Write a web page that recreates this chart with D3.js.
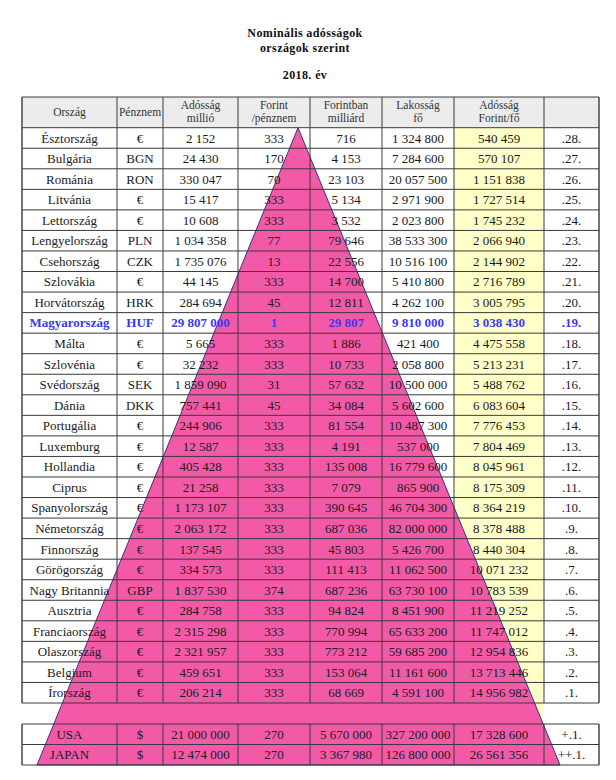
<!DOCTYPE html>
<html><head><meta charset="utf-8">
<script src="https://cdn.jsdelivr.net/npm/d3@7"></script>
<style>
html,body{margin:0;padding:0;background:#fff;}
svg{display:block;}
text{font-family:"Liberation Serif","Times New Roman",serif;}
</style></head>
<body>
<script>
// ---------- DATA ----------
const titleLines = ["Nominális adósságok", "országok szerint"];
const yearLabel = "2018. év";
const headers = [["Ország"], ["Pénznem"], ["Adósság", "millió"], ["Forint", "/pénznem"], ["Forintban", "milliárd"], ["Lakosság", "fő"], ["Adósság", "Forint/fő"], [""]];

const countries = ["Észtország","Bulgária","Románia","Litvánia","Lettország","Lengyelország","Csehország","Szlovákia","Horvátország","Magyarország","Málta","Szlovénia","Svédország","Dánia","Portugália","Luxemburg","Hollandia","Ciprus","Spanyolország","Németország","Finnország","Görögország","Nagy Britannia","Ausztria","Franciaország","Olaszország","Belgium","Írország"];
const currencies = ["€","BGN","RON","€","€","PLN","CZK","€","HRK","HUF","€","€","SEK","DKK","€","€","€","€","€","€","€","€","GBP","€","€","€","€","€"];
const debtMillion = [2152,24430,330047,15417,10608,1034358,1735076,44145,284694,29807000,5665,32232,1859090,757441,244906,12587,405428,21258,1173107,2063172,137545,334573,1837530,284758,2315298,2321957,459651,206214];
const forintPerUnit = [333,170,70,333,333,77,13,333,45,1,333,333,31,45,333,333,333,333,333,333,333,333,374,333,333,333,333,333];
const forintBillion = [716,4153,23103,5134,3532,79646,22556,14700,12811,29807,1886,10733,57632,34084,81554,4191,135008,7079,390645,687036,45803,111413,687236,94824,770994,773212,153064,68669];
const population = [1324800,7284600,20057500,2971900,2023800,38533300,10516100,5410800,4262100,9810000,421400,2058800,10500000,5602600,10487300,537000,16779600,865900,46704300,82000000,5426700,11062500,63730100,8451900,65633200,59685200,11161600,4591100];
const debtPerCapita = [540459,570107,1151838,1727514,1745232,2066940,2144902,2716789,3005795,3038430,4475558,5213231,5488762,6083604,7776453,7804469,8045961,8175309,8364219,8378488,8440304,10071232,10783539,11219252,11747012,12954836,13713446,14956982];
const ranks = [".28.",".27.",".26.",".25.",".24.",".23.",".22.",".21.",".20.",".19.",".18.",".17.",".16.",".15.",".14.",".13.",".12.",".11.",".10.",".9.",".8.",".7.",".6.",".5.",".4.",".3.",".2.",".1."];
const highlightCountry = "Magyarország";

const extraCountries = ["USA","JAPAN"];
const extraCurrencies = ["$","$"];
const extraDebtMillion = [21000000,12474000];
const extraForintPerUnit = [270,270];
const extraForintBillion = [5670000,3367980];
const extraPopulation = [327200000,126800000];
const extraDebtPerCapita = [17328600,26561356];
const extraRanks = ["+.1.","++.1."];

// ---------- LAYOUT ----------
const W = 616, H = 780;
const colEdges = [22,117,163,238,310,382,454,544,599];
const headTop = 97, headBottom = 127.7, bodyBottom = 703, extraTop = 724, extraBottom = 765;
const pink = "#f25aa7", yellow = "#ffffc8", headBg = "#ececec", gridCol = "#3a3a3a";
const fmt = d3.formatLocale({decimal: ",", thousands: "\u2009", grouping: [3], currency: ["", ""]}).format(",d");
const fmtN = v => fmt(v).replace(/\u2009/g, " ");

const svg = d3.select("body").append("svg").attr("width", W).attr("height", H);

// column scale (band by index, explicit edges)
const colIdx = d3.range(8);
const xLeft = d3.scaleOrdinal().domain(colIdx).range(colEdges.slice(0, 8));
const xRight = d3.scaleOrdinal().domain(colIdx).range(colEdges.slice(1));
const xMid = i => (xLeft(i) + xRight(i)) / 2;

const yMain = d3.scaleBand().domain(countries).range([headBottom, bodyBottom]).padding(0);
const yExtra = d3.scaleBand().domain(extraCountries).range([extraTop, extraBottom]).padding(0);

// title
const titleX = 305;
svg.selectAll("text.title").data(titleLines).join("text").attr("class", "title")
  .attr("x", titleX).attr("y", (d, i) => 37 + i * 15).attr("text-anchor", "middle")
  .attr("font-size", 12).attr("font-weight", "bold").attr("letter-spacing", 0.4).attr("fill", "#111").text(d => d);
svg.append("text").attr("x", titleX).attr("y", 79).attr("text-anchor", "middle")
  .attr("font-size", 12).attr("font-weight", "bold").attr("letter-spacing", 0.4).attr("fill", "#111").text(yearLabel);

// backgrounds
const bg = svg.append("g");
bg.selectAll("rect.h").data(colIdx).join("rect").attr("x", i => xLeft(i)).attr("y", headTop)
  .attr("width", i => xRight(i) - xLeft(i)).attr("height", headBottom - headTop).attr("fill", headBg);
bg.append("rect").attr("x", xLeft(6)).attr("y", headBottom).attr("width", xRight(6) - xLeft(6))
  .attr("height", extraBottom - headBottom).attr("fill", yellow);

// triangle
const apexX = 298, baseL = 37, baseR = 560;
svg.append("path")
  .attr("d", d3.line()([[apexX, headBottom], [baseL, extraBottom], [baseR, extraBottom]]) + "Z")
  .attr("fill", pink).attr("stroke", "#3b2f7a").attr("stroke-width", 1);

// grid
const grid = svg.append("g").attr("stroke", gridCol).attr("stroke-width", 1).attr("fill", "none");
function drawBlock(top, bottom, yScale, keys) {
  const hLines = [top].concat(keys.map(k => yScale(k) + yScale.bandwidth()));
  grid.selectAll(null).data(hLines).join("line")
    .attr("x1", colEdges[0]).attr("x2", colEdges[8]).attr("y1", d => d).attr("y2", d => d);
  grid.selectAll(null).data(colEdges).join("line")
    .attr("x1", d => d).attr("x2", d => d).attr("y1", top).attr("y2", bottom)
    .attr("stroke-width", (d, i) => (i === 0 || i === 8) ? 1.4 : 1);
}
drawBlock(headTop, bodyBottom, yMain, countries);
grid.append("line").attr("x1", colEdges[0]).attr("x2", colEdges[8]).attr("y1", headBottom).attr("y2", headBottom);
drawBlock(extraTop, extraBottom, yExtra, extraCountries);

// header text
const hg = svg.append("g");
headers.forEach((lines, i) => {
  lines.forEach((t, j) => {
    const y = lines.length === 1 ? 116 : 109 + j * 13;
    hg.append("text").attr("x", xMid(i)).attr("y", y).attr("text-anchor", "middle")
      .attr("font-size", 11.5).attr("fill", "#333").text(t);
  });
});

// body text
function rowsText(yScale, keys, cols, hl) {
  const g = svg.append("g");
  keys.forEach((k, r) => {
    const isHl = k === hl;
    cols.forEach((vals, c) => {
      g.append("text").attr("x", xMid(c)).attr("y", yScale(k) + yScale.bandwidth() / 2 + 4.6)
        .attr("text-anchor", "middle").attr("font-size", 13)
        .attr("font-weight", isHl ? "bold" : "normal")
        .attr("fill", isHl ? "#3a3af0" : "#1a1a1a")
        .text(vals[r]);
    });
  });
}
rowsText(yMain, countries, [countries, currencies, debtMillion.map(fmtN), forintPerUnit.map(fmtN), forintBillion.map(fmtN), population.map(fmtN), debtPerCapita.map(fmtN), ranks], highlightCountry);
rowsText(yExtra, extraCountries, [extraCountries, extraCurrencies, extraDebtMillion.map(fmtN), extraForintPerUnit.map(fmtN), extraForintBillion.map(fmtN), extraPopulation.map(fmtN), extraDebtPerCapita.map(fmtN), extraRanks], null);
</script>
</body></html>
